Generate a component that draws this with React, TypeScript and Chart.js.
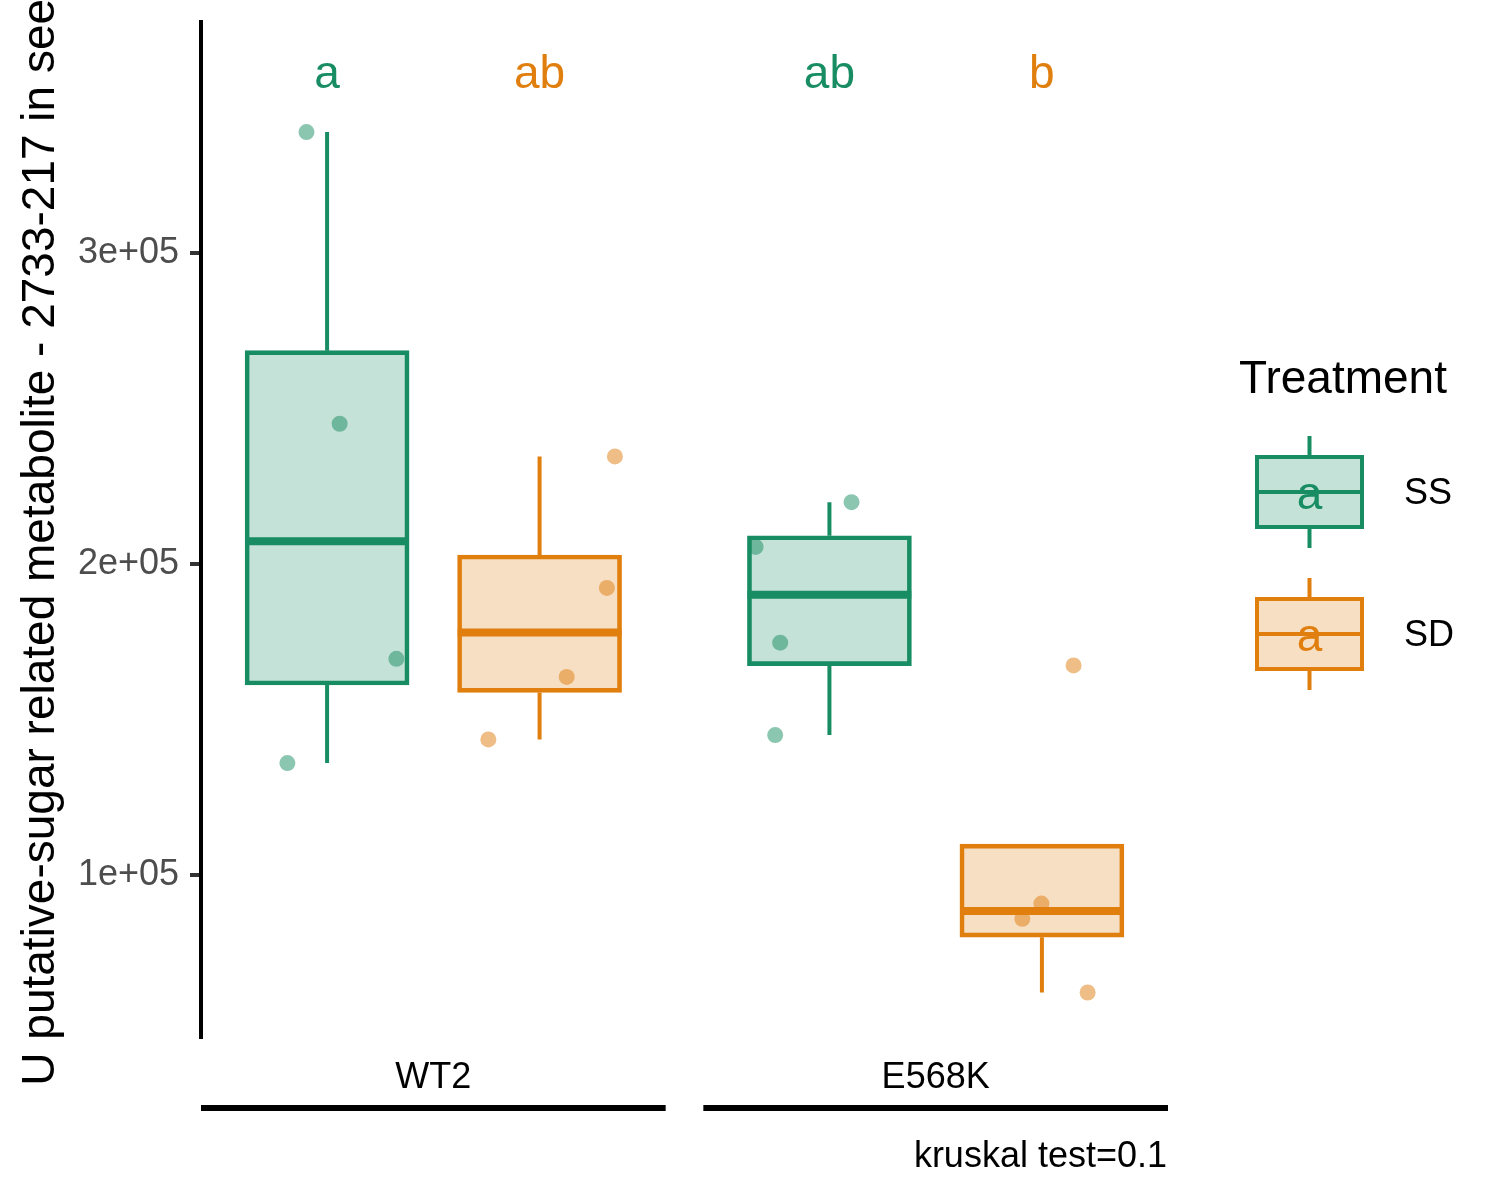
import { useEffect, useRef } from 'react';
import { Chart, registerables, Plugin } from 'chart.js';

Chart.register(...registerables);

const FONT = "'Liberation Sans', Arial, Helvetica, sans-serif";

const groups = ['WT2', 'E568K'];
const groupPos = [1, 2];
const treatments = ['SS', 'SD'];
const legendTitle = 'Treatment';
const yTitle = 'U putative-sugar related metabolite - 2733-217 in seed';
const testLabel = 'kruskal test=0.1';

// one entry per box: WT2 SS, WT2 SD, E568K SS, E568K SD
const boxGroup = [0, 0, 1, 1];
const boxTreatment = [0, 1, 0, 1];
const whiskerLow = [136000, 143600, 145000, 62200];
const q1 = [161100, 158700, 167300, 80000];
const median = [207300, 178000, 190100, 88400];
const q3 = [268600, 202900, 209100, 109900];
const whiskerHigh = [338900, 234600, 219900, 109900];
const letters = ['a', 'ab', 'ab', 'b'];

// raw samples per box, with the horizontal jitter
const pointValues = [
  [338900, 245100, 169500, 136000],
  [234600, 192300, 163700, 143600],
  [219900, 205500, 174700, 145000],
  [167400, 90800, 85900, 62200],
];
const pointJitter = [
  [-0.041, 0.025, 0.138, -0.079],
  [0.15, 0.134, 0.054, -0.102],
  [0.044, -0.147, -0.098, -0.108],
  [0.063, -0.001, -0.039, 0.091],
];

const yTicks = [100000, 200000, 300000];
const yTickLabels = ['1e+05', '2e+05', '3e+05'];
const yMin = 47900;
const yMax = 374300;

const lineColors = ['#188D64', '#E07E0E'];
const fillColors = ['rgba(24,141,100,0.25)', 'rgba(224,126,14,0.25)'];
const pointColors = ['rgba(24,141,100,0.5)', 'rgba(224,126,14,0.5)'];

const dodge = 0.2115;
const boxHalfWidth = 0.163;
const groupHalfSpan = 0.4625;

const boxPos = (i: number) => groupPos[boxGroup[i]] + (boxTreatment[i] === 0 ? -dodge : dodge);

const overlay: Plugin<'bar'> = {
  id: 'overlay',
  afterDraw(chart) {
    const { ctx, chartArea, scales } = chart;
    const x = scales.x;
    ctx.save();

    // significance letters above the boxes
    ctx.font = `46px ${FONT}`;
    ctx.textAlign = 'center';
    ctx.textBaseline = 'alphabetic';
    letters.forEach((l, i) => {
      ctx.fillStyle = lineColors[boxTreatment[i]];
      ctx.fillText(l, x.getPixelForValue(boxPos(i)), chartArea.top + 66);
    });

    // group brackets under the axis labels
    ctx.strokeStyle = '#000';
    ctx.lineWidth = 6;
    ctx.lineCap = 'butt';
    groupPos.forEach((g) => {
      ctx.beginPath();
      ctx.moveTo(x.getPixelForValue(g - groupHalfSpan), chartArea.bottom + 71);
      ctx.lineTo(x.getPixelForValue(g + groupHalfSpan), chartArea.bottom + 71);
      ctx.stroke();
    });

    ctx.font = `36px ${FONT}`;
    ctx.fillStyle = '#000';
    ctx.textAlign = 'right';
    ctx.fillText(testLabel, chartArea.right - 1, chartArea.bottom + 130);

    // legend
    const lx = chartArea.right + 71;
    ctx.textAlign = 'left';
    ctx.font = `46px ${FONT}`;
    ctx.fillText(legendTitle, lx, 393);
    treatments.forEach((t, k) => {
      const cy = 492 + k * 142;
      const cx = lx + 70.5;
      ctx.lineWidth = 4;
      ctx.strokeStyle = lineColors[k];
      ctx.fillStyle = fillColors[k];
      ctx.fillRect(cx - 52.5, cy - 35, 105, 70);
      ctx.strokeRect(cx - 52.5, cy - 35, 105, 70);
      ctx.beginPath();
      ctx.moveTo(cx, cy - 56);
      ctx.lineTo(cx, cy - 35);
      ctx.moveTo(cx, cy + 35);
      ctx.lineTo(cx, cy + 56);
      ctx.moveTo(cx - 52.5, cy);
      ctx.lineTo(cx + 52.5, cy);
      ctx.stroke();
      ctx.fillStyle = lineColors[k];
      ctx.textAlign = 'center';
      ctx.font = `46px ${FONT}`;
      ctx.fillText('a', cx, cy + 17);
      ctx.fillStyle = '#000';
      ctx.textAlign = 'left';
      ctx.font = `36px ${FONT}`;
      ctx.textBaseline = 'middle';
      ctx.fillText(t, lx + 165, cy + 2);
      ctx.textBaseline = 'alphabetic';
    });
    ctx.restore();
  },
};

export default function App() {
  const canvasRef = useRef<HTMLCanvasElement>(null);

  useEffect(() => {
    if (!canvasRef.current) return;
    const datasets: any[] = [];

    treatments.forEach((t, k) => {
      const idx = boxTreatment.map((v, i) => (v === k ? i : -1)).filter((i) => i >= 0);

      datasets.push({
        type: 'scatter',
        label: `${t} points`,
        order: 4,
        data: idx.flatMap((i) =>
          pointValues[i].map((v, j) => ({ x: boxPos(i) + pointJitter[i][j], y: v }))
        ),
        pointRadius: 8,
        pointBackgroundColor: pointColors[k],
        pointBorderWidth: 0,
      });

      datasets.push({
        type: 'line',
        label: `${t} whiskers`,
        order: 3,
        data: idx.flatMap((i) => [
          { x: boxPos(i), y: whiskerLow[i] },
          { x: boxPos(i), y: q1[i] },
          { x: boxPos(i), y: null },
          { x: boxPos(i), y: q3[i] },
          { x: boxPos(i), y: whiskerHigh[i] },
          { x: boxPos(i), y: null },
        ]),
        borderColor: lineColors[k],
        borderWidth: 4,
        pointRadius: 0,
        spanGaps: false,
        fill: false,
      });

      datasets.push({
        type: 'bar',
        label: `${t} box`,
        order: 2,
        data: idx.map((i) => ({ x: boxPos(i), y: [q1[i], q3[i]] })),
        backgroundColor: fillColors[k],
        borderColor: lineColors[k],
        borderWidth: 4,
        borderSkipped: false,
        barThickness: 164,
        grouped: false,
      });

      datasets.push({
        type: 'line',
        label: `${t} median`,
        order: 1,
        data: idx.flatMap((i) => [
          { x: boxPos(i) - boxHalfWidth, y: median[i] },
          { x: boxPos(i) + boxHalfWidth, y: median[i] },
          { x: boxPos(i), y: null },
        ]),
        borderColor: lineColors[k],
        borderWidth: 8,
        borderCapStyle: 'butt',
        pointRadius: 0,
        spanGaps: false,
        fill: false,
      });
    });

    const chart = new Chart(canvasRef.current, {
      type: 'bar',
      data: { datasets },
      options: {
        animation: false,
        responsive: false,
        events: [],
        layout: { padding: { top: 22, right: 332, left: 0, bottom: 0 } },
        plugins: {
          legend: { display: false },
          tooltip: { enabled: false },
        },
        scales: {
          x: {
            type: 'linear',
            min: 0.5375,
            max: 2.4625,
            offset: false,
            grid: { display: false },
            border: { display: false },
            ticks: {
              autoSkip: false,
              maxRotation: 0,
              padding: 11,
              color: '#000',
              font: { family: FONT, size: 36 },
              callback: (v: any) => groups[groupPos.indexOf(Number(v))] ?? '',
            },
            afterBuildTicks: (scale: any) => {
              scale.ticks = groupPos.map((v) => ({ value: v }));
            },
            afterFit: (scale: any) => {
              scale.height = 163;
              scale.paddingLeft = 0;
              scale.paddingRight = 0;
            },
          },
          y: {
            type: 'linear',
            min: yMin,
            max: yMax,
            grid: {
              display: true,
              drawOnChartArea: false,
              drawTicks: true,
              tickLength: 11,
              color: '#333333',
              lineWidth: 4,
            },
            border: { display: true, color: '#000', width: 4 },
            ticks: {
              padding: 11,
              color: '#4D4D4D',
              font: { family: FONT, size: 36 },
              callback: (v: any) => yTickLabels[yTicks.indexOf(Number(v))] ?? '',
            },
            afterBuildTicks: (scale: any) => {
              scale.ticks = yTicks.map((v) => ({ value: v }));
            },
            afterFit: (scale: any) => {
              scale.width = 201;
              scale.paddingTop = 0;
              scale.paddingBottom = 0;
            },
            title: {
              display: true,
              text: yTitle,
              color: '#000',
              font: { family: FONT, size: 46, lineHeight: 1.2 },
              padding: { top: 14, bottom: 0 },
            },
          },
        },
      },
      plugins: [overlay],
    });

    return () => chart.destroy();
  }, []);

  return (
    <div style={{ position: 'absolute', left: 0, top: 0, width: 1500, height: 1200, background: '#fff' }}>
      <canvas ref={canvasRef} width={1500} height={1200} style={{ display: 'block' }} />
    </div>
  );
}
